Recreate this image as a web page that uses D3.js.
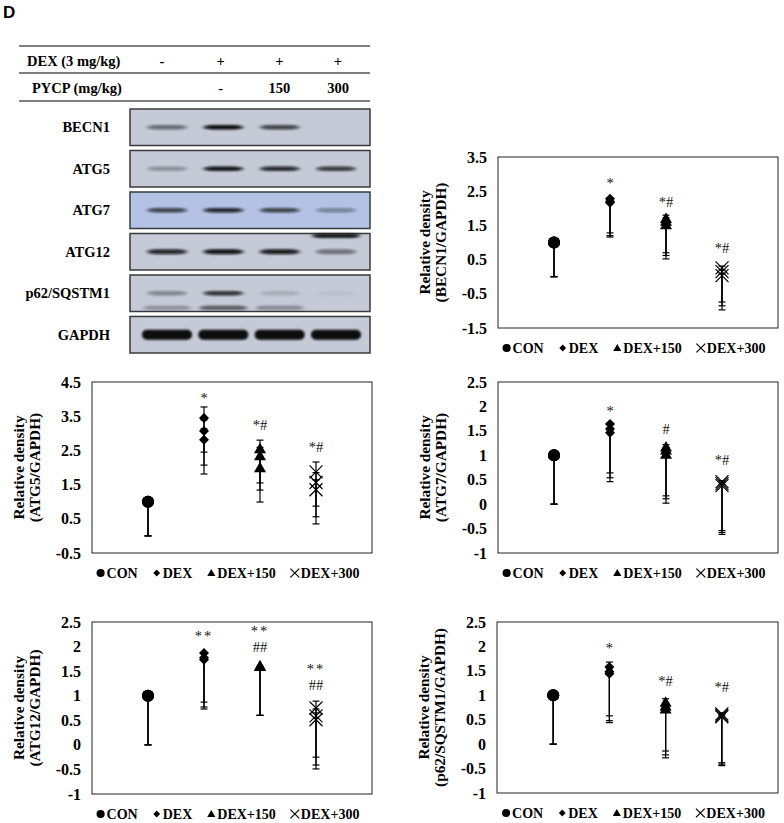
<!DOCTYPE html>
<html>
<head>
<meta charset="utf-8">
<script src="https://cdn.jsdelivr.net/npm/d3@7/dist/d3.min.js"></script>
<style>
  body { margin: 0; background: #fff; }
  svg { display: block; }
</style>
</head>
<body>
<div id="fig"></div>
<script>
// groups and treatment table
const groups = ["CON", "DEX", "DEX+150", "DEX+300"];
const dexRow = ["-", "+", "+", "+"];
const pycpRow = ["", "-", "150", "300"];

// western blot: band darkness per lane (0..1)
const proteins = ["BECN1", "ATG5", "ATG7", "ATG12", "p62/SQSTM1", "GAPDH"];
const bandLevels = [
  [0.5, 1.0, 0.7, 0.0],
  [0.3, 0.95, 0.85, 0.75],
  [0.7, 0.85, 0.7, 0.35],
  [0.85, 0.95, 0.9, 0.45],
  [0.35, 0.8, 0.15, 0.05],
  [1.0, 1.0, 1.0, 1.0]
];
const extraBands = [ // [protein index, lane, position in panel 0..1, darkness]
  [3, 3, 0.06, 1.0],
  [4, 0, 0.9, 0.3], [4, 1, 0.9, 0.6], [4, 2, 0.9, 0.35]
];

// replicate values per group, error bar sizes, significance labels
const becn1Values = [[1, 1, 1], [2.28, 2.2, 2.16], [1.7, 1.62, 1.52], [0.26, 0.15, 0.03]];
const becn1Plus = [0, 0.03, 0.1, 0.05];
const becn1Sig = [[], ["*"], ["*#"], ["*#"]];
const becn1SigAt = [0, 2.59, 2.04, 0.69];

const atg5Values = [[1, 1, 1], [3.45, 3.07, 2.81], [2.55, 2.34, 1.99], [1.87, 1.56, 1.35]];
const atg5Plus = [0, 0.32, 0.25, 0.29];
const atg5Sig = [[], ["*"], ["*#"], ["*#"]];
const atg5SigAt = [0, 3.89, 3.10, 2.45];

const atg7Values = [[1, 1, 1], [1.64, 1.54, 1.46], [1.17, 1.11, 1.02], [0.46, 0.42, 0.38]];
const atg7Plus = [0, 0.02, 0.05, 0.02];
const atg7Sig = [[], ["*"], ["#"], ["*#"]];
const atg7SigAt = [0, 1.80, 1.44, 0.80];

const atg12Values = [[1, 1, 1], [1.87, 1.77, 1.73], [1.6, 1.6, 1.6], [0.75, 0.59, 0.51]];
const atg12Plus = [0, 0, 0, 0.14];
const atg12Sig = [[], ["**"], ["**", "##"], ["**", "##"]];
const atg12SigAt = [0, 2.11, 1.89, 1.12];

const p62Values = [[1, 1, 1], [1.58, 1.48, 1.44], [0.86, 0.78, 0.72], [0.62, 0.59, 0.56]];
const p62Plus = [0, 0.1, 0.07, 0.02];
const p62Sig = [[], ["*"], ["*#"], ["*#"]];
const p62SigAt = [0, 1.87, 1.19, 1.07];

const errMinus = 1;

const W = 784, H = 823;
const serif = "Liberation Serif, Times New Roman, serif";

const svg = d3.select("#fig").append("svg")
  .attr("width", W).attr("height", H)
  .attr("font-family", serif);

const defs = svg.append("defs");
defs.append("filter").attr("id", "blur")
  .attr("x", "-20%").attr("y", "-100%").attr("width", "140%").attr("height", "300%")
  .append("feGaussianBlur").attr("stdDeviation", "2 1.1");
defs.append("filter").attr("id", "soft")
  .attr("x", "-10%").attr("y", "-50%").attr("width", "120%").attr("height", "200%")
  .append("feGaussianBlur").attr("stdDeviation", "0.8");

// panel letter
svg.append("text")
  .attr("x", 3).attr("y", 18)
  .attr("font-family", "Liberation Sans, Arial, sans-serif")
  .attr("font-weight", 700).attr("font-size", 17)
  .text("D");

// ---- treatment table ----
const colX = d3.scalePoint().domain(groups).range([162, 338]);
const table = svg.append("g");
[46, 73, 101].forEach(y => {
  table.append("line")
    .attr("x1", 19).attr("x2", 370).attr("y1", y).attr("y2", y)
    .attr("stroke", "#555").attr("stroke-width", 1.5);
});
const rows = [
  { label: "DEX (3 mg/kg)", lx: 27, y: 66, cells: dexRow },
  { label: "PYCP (mg/kg)", lx: 32, y: 93, cells: pycpRow }
];
rows.forEach(r => {
  table.append("text").attr("x", r.lx).attr("y", r.y)
    .attr("font-family", serif)
    .attr("font-weight", 700).attr("font-size", 14.5).text(r.label);
  table.selectAll(null).data(r.cells).join("text")
    .attr("x", (d, i) => colX(groups[i])).attr("y", r.y)
    .attr("text-anchor", "middle")
    .attr("font-family", serif)
    .attr("font-weight", 700).attr("font-size", 14.5)
    .text(d => d);
});

// ---- blots ----
const blotY = d3.scaleBand().domain(proteins).range([109, 353]).paddingInner(0.12);
const laneX = d3.scalePoint().domain(groups).range([167, 336]);
const blot = svg.append("g");
proteins.forEach((p, pi) => {
  const y0 = blotY(p), h = blotY.bandwidth();
  const g = blot.append("g");
  g.append("rect")
    .attr("x", 130).attr("y", y0).attr("width", 240).attr("height", h)
    .attr("fill", p === "ATG7" ? "#b4c3e5" : "#c5cad7")
    .attr("stroke", "#3a3a3a").attr("stroke-width", 1.5);
  g.append("text")
    .attr("x", 110).attr("y", y0 + h / 2 + 5)
    .attr("text-anchor", "end")
    .attr("font-family", serif)
    .attr("font-weight", 700).attr("font-size", 14.5)
    .text(p);
  const thick = p === "GAPDH" ? 10 : (p === "ATG12" ? 5 : 4.5);
  const bw = p === "GAPDH" ? 50 : 40;
  const bands = g.append("g");
  bands.selectAll("rect").data(bandLevels[pi]).join("rect")
    .attr("x", (d, i) => laneX(groups[i]) - bw / 2)
    .attr("y", y0 + h / 2 - thick / 2)
    .attr("width", bw).attr("height", thick)
    .attr("rx", p === "GAPDH" ? 5 : 10).attr("ry", thick / 2)
    .attr("fill", "#080808")
    .attr("opacity", d => d)
    .attr("filter", p === "GAPDH" ? "url(#soft)" : "url(#blur)");
  extraBands.filter(e => e[0] === pi).forEach(e => {
    bands.append("rect")
      .attr("x", laneX(groups[e[1]]) - bw / 2 - 4)
      .attr("y", y0 + h * e[2] - 2)
      .attr("width", bw + 8).attr("height", 4)
      .attr("rx", 8).attr("ry", 2)
      .attr("fill", "#080808").attr("opacity", e[3])
      .attr("filter", "url(#blur)");
  });
});

// ---- marker drawing ----
function drawMarker(g, gi, x, y, s) {
  if (gi === 0) {
    g.append("circle").attr("cx", x).attr("cy", y).attr("r", 6 * s).attr("fill", "#000");
  } else if (gi === 1) {
    const a = 5 * s;
    g.append("path")
      .attr("d", `M${x},${y - a}L${x + a},${y}L${x},${y + a}L${x - a},${y}Z`)
      .attr("fill", "#000");
  } else if (gi === 2) {
    const a = 6 * s;
    g.append("path")
      .attr("d", `M${x},${y - a}L${x + a},${y + a * 0.75}L${x - a},${y + a * 0.75}Z`)
      .attr("fill", "#000");
  } else {
    const a = 6.5 * s;
    g.append("path")
      .attr("d", `M${x - a},${y - a}L${x + a},${y + a}M${x - a},${y + a}L${x + a},${y - a}`)
      .attr("stroke", "#000").attr("stroke-width", 1.2).attr("fill", "none");
  }
}

// ---- scatter panels ----
function drawPanel(cfg) {
  const { left, top, width, height, domain, ticks, values, plus, sig, sigAt, title } = cfg;
  const g = svg.append("g");
  const x = d3.scaleLinear().domain([0, 5]).range([left, left + width]);
  const y = d3.scaleLinear().domain(domain).range([top + height, top]);

  g.append("rect")
    .attr("x", left).attr("y", top).attr("width", width).attr("height", height)
    .attr("fill", "none").attr("stroke", "#222").attr("stroke-width", 1);

  const yAxis = d3.axisLeft(y).tickValues(ticks).tickSize(0).tickPadding(11)
    .tickFormat(d => String(d));
  const ax = g.append("g").attr("transform", `translate(${left},0)`).call(yAxis);
  ax.select(".domain").remove();
  ax.selectAll("text")
    .attr("font-family", serif).attr("font-weight", 700)
    .attr("font-size", 16).attr("fill", "#000");

  const cy = top + height / 2;
  title.forEach((t, i) => {
    g.append("text")
      .attr("transform", `translate(${left - 68 + i * 16},${cy}) rotate(-90)`)
      .attr("text-anchor", "middle")
      .attr("font-family", serif)
      .attr("font-weight", 700).attr("font-size", 15.3)
      .text(t);
  });

  values.forEach((vals, gi) => {
    const cx = x(gi + 1);
    const eg = g.append("g");
    vals.forEach(v => {
      const lo = y(v - errMinus), hi = y(v + plus[gi]);
      eg.append("line").attr("x1", cx).attr("x2", cx).attr("y1", lo).attr("y2", hi)
        .attr("stroke", "#000").attr("stroke-width", 1.2);
      eg.append("line").attr("x1", cx - 3.5).attr("x2", cx + 3.5).attr("y1", lo).attr("y2", lo)
        .attr("stroke", "#000").attr("stroke-width", 1.2);
      if (plus[gi] > 0) {
        eg.append("line").attr("x1", cx - 3.5).attr("x2", cx + 3.5).attr("y1", hi).attr("y2", hi)
          .attr("stroke", "#000").attr("stroke-width", 1.2);
      }
    });
    vals.forEach(v => drawMarker(eg, gi, cx, y(v), 1));

    const lines = sig[gi];
    lines.forEach((s, li) => {
      g.append("text")
        .attr("x", cx).attr("y", y(sigAt[gi]) - (lines.length - 1 - li) * 16)
        .attr("text-anchor", "middle")
        .attr("font-family", serif)
        .attr("font-size", 14.5).attr("fill", "#111")
        .attr("letter-spacing", s === "**" ? 2 : 0)
        .text(s);
    });
  });

  // legend
  const lg = g.append("g");
  let cursor = 0;
  const ly = top + height + 25;
  groups.forEach((name, gi) => {
    drawMarker(lg, gi, cursor + 4, ly - 5, 0.68);
    const t = lg.append("text").attr("x", cursor + 10).attr("y", ly)
      .attr("font-family", serif)
      .attr("font-weight", 700).attr("font-size", 14).text(name);
    cursor += 10 + t.node().getComputedTextLength() + 15;
  });
  cursor -= 15;
  lg.attr("transform", `translate(${left + width / 2 - cursor / 2 - 4},0)`);
}

drawPanel({
  left: 498, top: 157, width: 280, height: 171, domain: [-1.5, 3.5],
  ticks: [3.5, 2.5, 1.5, 0.5, -0.5, -1.5],
  values: becn1Values, plus: becn1Plus, sig: becn1Sig, sigAt: becn1SigAt,
  title: ["Relative density", "(BECN1/GAPDH)"]
});
drawPanel({
  left: 92, top: 382, width: 280, height: 171, domain: [-0.5, 4.5],
  ticks: [4.5, 3.5, 2.5, 1.5, 0.5, -0.5],
  values: atg5Values, plus: atg5Plus, sig: atg5Sig, sigAt: atg5SigAt,
  title: ["Relative density", "(ATG5/GAPDH)"]
});
drawPanel({
  left: 498, top: 382, width: 280, height: 171, domain: [-1, 2.5],
  ticks: [2.5, 2, 1.5, 1, 0.5, 0, -0.5, -1],
  values: atg7Values, plus: atg7Plus, sig: atg7Sig, sigAt: atg7SigAt,
  title: ["Relative density", "(ATG7/GAPDH)"]
});
drawPanel({
  left: 92, top: 622, width: 280, height: 172, domain: [-1, 2.5],
  ticks: [2.5, 2, 1.5, 1, 0.5, 0, -0.5, -1],
  values: atg12Values, plus: atg12Plus, sig: atg12Sig, sigAt: atg12SigAt,
  title: ["Relative density", "(ATG12/GAPDH)"]
});
drawPanel({
  left: 497, top: 622, width: 281, height: 171, domain: [-1, 2.5],
  ticks: [2.5, 2, 1.5, 1, 0.5, 0, -0.5, -1],
  values: p62Values, plus: p62Plus, sig: p62Sig, sigAt: p62SigAt,
  title: ["Relative density", "(p62/SQSTM1/GAPDH)"]
});
</script>
</body>
</html>
